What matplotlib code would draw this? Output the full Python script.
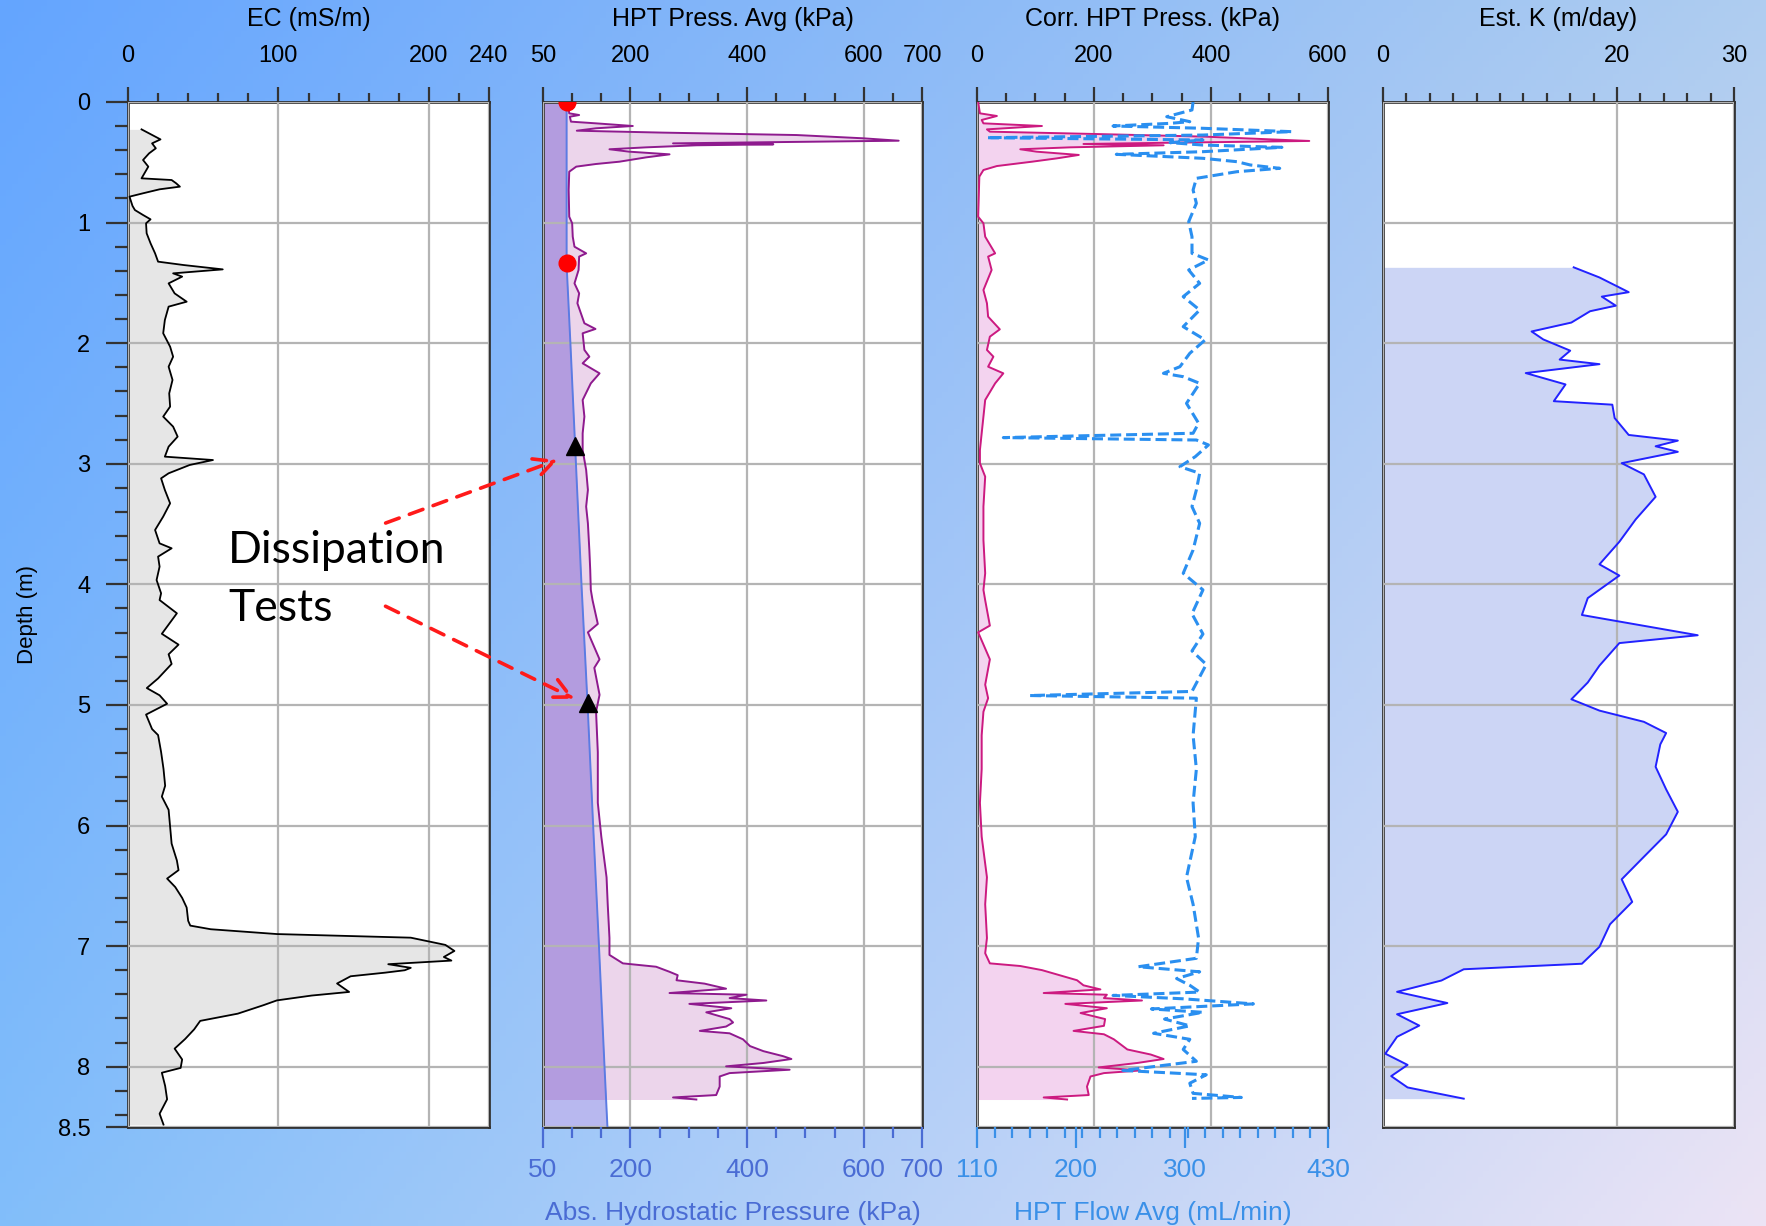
import numpy as np
import matplotlib
matplotlib.use("Agg")
import matplotlib.pyplot as plt
from matplotlib.ticker import FixedLocator, MultipleLocator
from matplotlib.patches import FancyArrowPatch

plt.rcParams['font.family'] = ['Liberation Sans', 'DejaVu Sans']

# ---------------- data ----------------
ec_depth = [0.227, 0.31, 0.343, 0.384, 0.426, 0.481, 0.536, 0.633, 0.647, 0.674, 0.702, 0.724, 0.757, 0.785,
            0.862, 0.896, 0.937, 0.973, 1.006, 1.089, 1.172, 1.255, 1.324, 1.352, 1.388, 1.421, 1.448, 1.504,
            1.587, 1.656, 1.697, 1.808, 1.918, 2.029, 2.112, 2.195, 2.305, 2.416, 2.526, 2.609, 2.692, 2.775,
            2.858, 2.941, 2.969, 3.010, 3.079, 3.121, 3.217, 3.328, 3.438, 3.549, 3.660, 3.701, 3.770, 3.853,
            3.964, 4.074, 4.13, 4.24, 4.41, 4.50, 4.58, 4.66, 4.78, 4.86, 4.92, 4.99, 5.08, 5.20, 5.25, 5.39,
            5.53, 5.67, 5.76, 5.87, 6.01, 6.15, 6.29, 6.37, 6.44, 6.51, 6.60, 6.68, 6.79, 6.83, 6.86, 6.90,
            6.93, 6.99, 7.04, 7.09, 7.12, 7.15, 7.18, 7.20, 7.22, 7.25, 7.31, 7.38, 7.41, 7.45, 7.49, 7.56,
            7.62, 7.69, 7.77, 7.85, 7.94, 8.01, 8.05, 8.16, 8.27, 8.39, 8.48]
ec_val = [9, 21.6, 16, 18.5, 14, 10, 13.5, 9, 29, 32, 34.5, 21, 10, 1,
          3, 4.6, 10, 15, 12, 12.4, 15, 18, 20, 37, 63, 30, 36, 27,
          31, 39, 27, 24.5, 23.4, 28, 30, 27, 29.6, 27.4, 28, 23.4, 30, 33,
          27, 24.5, 56.5, 41, 27, 22, 24.5, 28, 23.4, 18, 21, 29, 20, 21,
          19, 22, 21, 32.5, 22.5, 33.6, 27, 29, 20, 12.5, 21, 26, 12, 16, 20, 22,
          23.6, 24.7, 22.5, 27, 28, 29, 32.5, 33.6, 26, 31.4, 36, 39, 40, 41.4, 55, 99,
          188, 211, 217, 210, 215, 173, 188, 184, 171, 148, 139, 147, 122, 99, 90, 73,
          48, 44, 38, 31, 36, 35, 22.5, 24.7, 26, 21, 23.6]

hpt_depth = [0, 0.094, 0.108, 0.122, 0.163, 0.177, 0.199, 0.218, 0.238, 0.254, 0.274, 0.301, 0.321, 0.334,
             0.343, 0.351, 0.359, 0.376, 0.392, 0.412, 0.434, 0.459, 0.495, 0.514, 0.536, 0.578, 0.730, 0.951,
             1.006, 1.117, 1.200, 1.255, 1.282, 1.393, 1.504, 1.587, 1.669, 1.752, 1.835, 1.882, 1.918, 2.056,
             2.112, 2.167, 2.250, 2.333, 2.471, 2.609, 2.747, 2.886, 3.051, 3.217, 3.355, 3.494, 3.715, 3.881,
             4.046, 4.132, 4.328, 4.398, 4.622, 4.692, 4.916, 5.056, 5.392, 5.812, 6.092, 6.429, 6.653, 6.933,
             7.073, 7.143, 7.171, 7.213, 7.241, 7.283, 7.311, 7.353, 7.389, 7.403, 7.431, 7.451, 7.479, 7.515,
             7.549, 7.605, 7.633, 7.667, 7.703, 7.723, 7.773, 7.829, 7.871, 7.913, 7.936, 7.969, 7.997, 8.025,
             8.053, 8.081, 8.165, 8.235, 8.255, 8.272]
hpt_val = [92, 95, 112, 96, 98, 141, 204, 141, 108, 256, 485, 599, 660, 427,
           273, 445, 313, 227, 164, 198, 267, 227, 181, 141, 107, 95, 94, 95,
           100, 101, 104, 124, 112, 111, 104, 112, 109, 115, 121, 140, 118, 121,
           129.5, 118, 147, 132, 118, 121, 118, 118, 124, 127, 124, 127, 129.5, 131,
           132, 135, 144, 127, 147, 138, 147, 141, 144, 144, 150, 159, 161, 164,
           164, 187, 244, 267, 281, 279, 327, 364, 267, 399, 370, 433, 301, 373,
           330, 370, 376, 364, 319, 370, 393, 405, 428, 462, 476, 428, 364, 473,
           370, 353, 353, 347, 273, 313]

hydro_depth = [0, 1.35, 2, 3, 4, 5, 6, 7, 8, 8.5]
hydro_val = [90.5, 90.5, 97, 106.5, 116, 126.5, 136, 146, 155.5, 160.5]

wt_depth = [0.0, 1.332]        # red dots
wt_val = [90.5, 90.5]
diss_depth = [2.853, 4.986]    # dissipation test triangles
diss_val = [105.4, 126.6]

corr_depth = [0, 0.094, 0.116, 0.149, 0.177, 0.199, 0.227, 0.246, 0.265, 0.287, 0.310, 0.323, 0.337, 0.348,
              0.359, 0.376, 0.392, 0.412, 0.439, 0.467, 0.495, 0.531, 0.564, 0.619, 0.951, 1.006, 1.117, 1.255,
              1.282, 1.393, 1.559, 1.669, 1.780, 1.885, 1.946, 2.056, 2.112, 2.195, 2.250, 2.333, 2.471, 2.609,
              2.747, 2.886, 2.996, 3.107, 3.355, 3.632, 3.908, 4.046, 4.132, 4.342, 4.398, 4.622, 4.832, 4.944,
              5.056, 5.252, 5.532, 5.812, 6.092, 6.429, 6.653, 6.933, 7.059, 7.143, 7.165, 7.199, 7.227, 7.283,
              7.325, 7.359, 7.389, 7.403, 7.431, 7.451, 7.479, 7.515, 7.555, 7.605, 7.661, 7.703, 7.731, 7.773,
              7.857, 7.899, 7.936, 7.969, 8.006, 8.031, 8.053, 8.081, 8.165, 8.235, 8.255, 8.272]
corr_val = [2, 5, 34, 8, 11, 111, 17, 22, 199, 388, 502, 568, 342, 182,
            319, 159, 74, 102, 174, 137, 94, 34, 11, 4, 2, 11, 14, 31,
            19, 25, 11, 17, 19, 39, 22, 17, 28, 19, 45, 31, 14, 11,
            8, 5, 5, 14, 11, 11, 14, 11, 14, 22, 2, 22, 14, 19,
            11, 8, 8, 5, 8, 17, 14, 17, 14, 22, 74, 111, 131, 171,
            182, 211, 114, 222, 217, 282, 151, 222, 177, 219, 217, 165, 217, 234,
            257, 297, 319, 274, 208, 279, 217, 194, 188, 191, 114, 154]

flow_depth = [0, 0.066, 0.122, 0.163, 0.177, 0.199, 0.218, 0.246, 0.274, 0.296, 0.315, 0.337, 0.357, 0.376,
              0.412, 0.434, 0.467, 0.495, 0.522, 0.550, 0.578, 0.633, 0.730, 0.840, 0.992, 1.117, 1.255, 1.310,
              1.393, 1.504, 1.614, 1.725, 1.863, 1.973, 2.084, 2.195, 2.250, 2.278, 2.333, 2.499, 2.664, 2.747,
              2.783, 2.803, 2.844, 2.941, 3.024, 3.079, 3.217, 3.355, 3.494, 3.715, 3.908, 4.046, 4.244, 4.412,
              4.552, 4.664, 4.888, 4.922, 4.944, 5.252, 5.532, 5.812, 6.092, 6.429, 6.653, 6.933, 7.101, 7.171,
              7.213, 7.269, 7.325, 7.381, 7.409, 7.437, 7.479, 7.521, 7.549, 7.605, 7.661, 7.723, 7.773, 7.857,
              7.955, 8.031, 8.067, 8.137, 8.221, 8.255, 8.263]
flow_val = [307, 306, 283, 304, 286, 234, 316, 397, 316, 119, 316, 286, 316, 388,
            316, 237, 316, 347, 359, 386, 347, 310, 307, 310, 303, 306, 306, 321,
            303, 313, 298, 313, 298, 318, 304, 295, 280, 298, 313, 301, 312, 307,
            134, 310, 321, 309, 295, 313, 310, 306, 313, 307, 298, 316, 306, 316,
            306, 319, 306, 158, 310, 307, 310, 307, 309, 301, 307, 312, 310, 257,
            313, 292, 304, 313, 234, 298, 362, 269, 316, 281, 304, 271, 304, 298,
            310, 243, 319, 304, 307, 351, 306]

k_depth = [1.371, 1.455, 1.577, 1.614, 1.689, 1.735, 1.829, 1.903, 1.969, 2.062, 2.136, 2.174, 2.248, 2.342,
           2.481, 2.51, 2.621, 2.761, 2.808, 2.855, 2.901, 2.995, 3.088, 3.274, 3.461, 3.647, 3.834, 3.927,
           4.114, 4.254, 4.422, 4.487, 4.674, 4.814, 4.953, 5.047, 5.140, 5.233, 5.327, 5.513, 5.700, 5.886,
           6.073, 6.259, 6.446, 6.633, 6.819, 7.006, 7.146, 7.192, 7.285, 7.379, 7.472, 7.565, 7.659, 7.752,
           7.892, 7.985, 8.078, 8.172, 8.265]
k_val = [16.3, 18.5, 21.0, 18.7, 19.9, 17.7, 16.1, 12.7, 13.7, 16.0, 15.1, 18.5, 12.2, 15.6,
         14.6, 19.6, 19.8, 21.0, 25.2, 23.3, 25.2, 20.4, 22.3, 23.3, 21.6, 20.2, 18.5, 20.2,
         17.5, 17.0, 26.9, 20.2, 18.5, 17.5, 16.1, 18.5, 22.3, 24.2, 23.7, 23.3, 24.2, 25.2,
         24.2, 22.3, 20.4, 21.3, 19.4, 18.5, 17.0, 6.9, 5.0, 1.2, 5.5, 1.2, 3.1, 1.2,
         0.2, 2.1, 0.7, 2.1, 6.9]

# ---------------- figure ----------------
W, H = 1766, 1226
fig = plt.figure(figsize=(W / 100, H / 100), dpi=100)

bg = fig.add_axes([0, 0, 1, 1], zorder=-10)
tl = np.array([100, 165, 255]) / 255
tr = np.array([175, 205, 240]) / 255
bl = np.array([130, 190, 250]) / 255
br = np.array([236, 228, 245]) / 255
u = np.linspace(0, 1, 300)[None, :, None]
v = np.linspace(0, 1, 200)[:, None, None]
img = (1 - u) * (1 - v) * tl + u * (1 - v) * tr + (1 - u) * v * bl + u * v * br
bg.imshow(img, aspect='auto', extent=[0, 1, 0, 1], origin='upper')
bg.axis('off')

TOP, BOT = 102, 1127
SPINE = '#333333'
GRID = '#b4b4b4'
BLUE_AX = '#4a6cd4'
FLOW_AX = '#3a90e8'


def set_top_ticks(ax):
    ax.xaxis.tick_top()
    ax.tick_params(axis='x', which='both', top=True, labeltop=True, bottom=False, labelbottom=False)
    ax.tick_params(axis='x', which='major', length=11, width=1.6, labelsize=17, pad=14, color=SPINE)
    ax.tick_params(axis='x', which='minor', length=6.5, width=1.6, color=SPINE)


def make_axes(x0, x1):
    ax = fig.add_axes([x0 / W, 1 - BOT / H, (x1 - x0) / W, (BOT - TOP) / H])
    ax.set_facecolor('white')
    ax.set_ylim(8.5, 0)
    for s in ax.spines.values():
        s.set_linewidth(2)
        s.set_color(SPINE)
    ax.yaxis.set_major_locator(FixedLocator([0, 1, 2, 3, 4, 5, 6, 7, 8, 8.5]))
    ax.yaxis.set_minor_locator(FixedLocator(np.arange(0, 8.45, 0.2)))
    set_top_ticks(ax)
    ax.tick_params(axis='y', which='both', left=False, labelleft=False)
    ax.grid(True, which='major', color=GRID, linewidth=1.6)
    ax.set_axisbelow(False)
    return ax


def top_title(ax, txt):
    ax.text(0.5, 1 + 83 / (BOT - TOP), txt, transform=ax.transAxes, ha='center', va='center', fontsize=18)


def bottom_axis(ax, lo, hi, majors, minors, color, label):
    tw = ax.twiny()
    set_top_ticks(ax)   # twiny moves the host's ticks to the bottom; put them back on top
    tw.set_xlim(lo, hi)
    tw.xaxis.tick_bottom()
    tw.tick_params(axis='x', which='both', top=False, labeltop=False, bottom=True, labelbottom=True)
    tw.xaxis.set_major_locator(FixedLocator(majors))
    tw.xaxis.set_minor_locator(FixedLocator(minors))
    tw.tick_params(axis='x', which='major', length=15, width=1.6, labelsize=19, pad=7, colors=color)
    tw.tick_params(axis='x', which='minor', length=8, width=1.6, colors=color)
    for s in tw.spines.values():
        s.set_visible(False)
    tw.grid(False)
    tw.text(0.5, -86 / (BOT - TOP), label, transform=tw.transAxes, ha='center', va='center',
            fontsize=19, color=color)
    return tw


# Panel 1: EC
ax1 = make_axes(128, 489)
ax1.set_xlim(0, 240)
ax1.xaxis.set_major_locator(FixedLocator([0, 100, 200, 240]))
ax1.xaxis.set_minor_locator(MultipleLocator(20))
ax1.tick_params(axis='y', which='major', left=True, labelleft=True, length=16, width=1.6,
                labelsize=17, pad=11, color=SPINE)
ax1.tick_params(axis='y', which='minor', left=True, length=9.5, width=1.6, color=SPINE)
ax1.set_yticklabels(['0', '1', '2', '3', '4', '5', '6', '7', '8', '8.5'])
ax1.set_ylabel('Depth (m)', fontsize=16, labelpad=14)
ax1.fill_betweenx(ec_depth, 0, ec_val, color='#e6e6e6', zorder=1, linewidth=0)
ax1.plot(ec_val, ec_depth, color='black', lw=1.3, zorder=3)
top_title(ax1, 'EC (mS/m)')

# Panel 2: HPT pressure
ax2 = make_axes(543, 922)
ax2.set_xlim(50, 700)
ax2.xaxis.set_major_locator(FixedLocator([50, 200, 400, 600, 700]))
ax2.xaxis.set_minor_locator(MultipleLocator(50))
ax2.fill_betweenx(hydro_depth, 50, hydro_val, color=(0.45, 0.45, 0.88), alpha=0.5, zorder=1, linewidth=0)
ax2.fill_betweenx(hpt_depth, 50, hpt_val, color='#a0309f', alpha=0.2, zorder=1.1, linewidth=0)
ax2.plot(hydro_val, hydro_depth, color='#5b7be3', lw=1.4, zorder=3)
ax2.plot(hpt_val, hpt_depth, color='#8e1a8e', lw=1.4, zorder=3)
ax2.plot(wt_val, wt_depth, 'o', color='red', markersize=12, zorder=4, clip_on=True)
ax2.plot(diss_val, diss_depth, '^', color='black', markersize=13, zorder=4)
top_title(ax2, 'HPT Press. Avg (kPa)')
bottom_axis(ax2, 50, 700, [50, 200, 400, 600, 700], np.arange(50, 701, 50), BLUE_AX,
            'Abs. Hydrostatic Pressure (kPa)')

# Panel 3: corrected pressure + flow
ax3 = make_axes(977, 1328)
ax3.set_xlim(0, 600)
ax3.xaxis.set_major_locator(FixedLocator([0, 200, 400, 600]))
ax3.xaxis.set_minor_locator(MultipleLocator(50))
ax3.fill_betweenx(corr_depth, 0, corr_val, color='#f3d3ef', zorder=1, linewidth=0)
ax3.plot(corr_val, corr_depth, color='#cc1a80', lw=1.4, zorder=3)
top_title(ax3, 'Corr. HPT Press. (kPa)')
tw3 = bottom_axis(ax3, 110, 430, [110, 200, 300, 430], np.arange(110, 431, 16), FLOW_AX,
                  'HPT Flow Avg (mL/min)')
tw3.plot(flow_val, flow_depth, color='#2a8ff0', lw=2.2, dashes=(3.6, 1.6), zorder=4)

# Panel 4: K
ax4 = make_axes(1383, 1734)
ax4.set_xlim(0, 30)
ax4.xaxis.set_major_locator(FixedLocator([0, 20, 30]))
ax4.xaxis.set_minor_locator(MultipleLocator(2))
ax4.fill_betweenx(k_depth, 0, k_val, color='#ccd5f5', zorder=1, linewidth=0)
ax4.plot(k_val, k_depth, color='#2222ff', lw=1.4, zorder=3)
top_title(ax4, 'Est. K (m/day)')

# Annotation overlay (pixel coordinates, y downward)
ov = fig.add_axes([0, 0, 1, 1], zorder=20)
ov.set_xlim(0, W)
ov.set_ylim(H, 0)
ov.axis('off')
ov.patch.set_alpha(0)
ov.text(228, 563, 'Dissipation', fontsize=32, family=['Lato', 'DejaVu Sans'], va='baseline', ha='left')
ov.text(228, 621, 'Tests', fontsize=32, family=['Lato', 'DejaVu Sans'], va='baseline', ha='left')
for (xa, ya), (xb, yb) in [((383, 524), (560, 459)), ((383, 605), (577, 700))]:
    arr = FancyArrowPatch((xa, ya), (xb, yb), arrowstyle='->,head_length=14,head_width=7',
                          color='#ff1a1a', lw=2.6, linestyle=(0, (4, 3)), mutation_scale=1)
    ov.add_patch(arr)

fig.savefig('out.png', dpi=100)
